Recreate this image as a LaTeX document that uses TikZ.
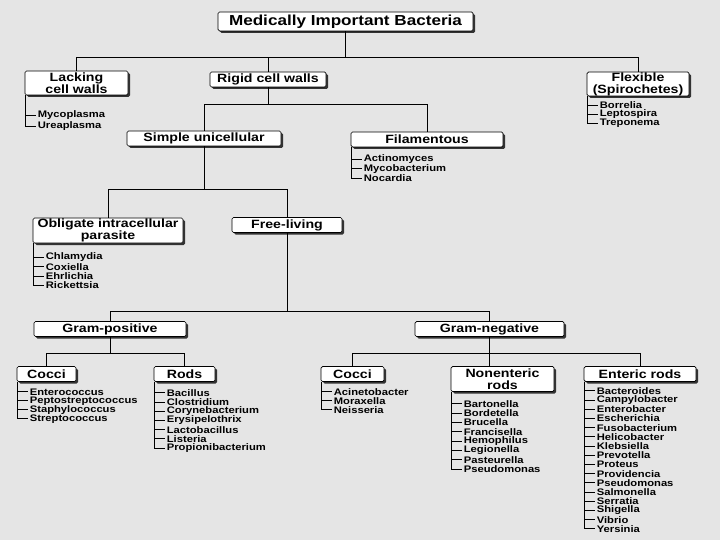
\documentclass[tikz,border=0pt]{standalone}
\usepackage{fontspec}
\setmainfont{Liberation Sans}[FakeStretch=1.18]
\usepackage{tikz}
\usetikzlibrary{shadows}
\tikzset{
	taxon/.style={draw, fill=white, rounded corners=1.5pt, line width=0.7pt, inner sep=0pt, align=center,
		minimum height=15pt, font=\bfseries\fontsize{12}{12}\selectfont,
		drop shadow={shadow xshift=2pt, shadow yshift=-2pt, fill=black!80, opacity=1}},
	genus/.style={anchor=west, inner sep=2pt, font=\bfseries\fontsize{9.5}{9.5}\selectfont},
	branch/.style={line width=0.9pt}
}
\newcommand{\genera}[4][9.2]{% [row]{box}{gap}{names}
	\coordinate (#2-stem) at ([xshift=1pt]#2.south west);
	\foreach \g [count=\i] in {#4} {
		\node[genus] (#2-\i) at ([xshift=11pt, yshift={-(#3+(\i-1)*#1)*1pt}]#2.south west) {\g};
		\draw[branch] (#2-stem) |- (#2-\i.west);
	}
}

\begin{document}
\begin{tikzpicture}[x=1pt, y=-1pt]
	\fill[black!10] (0,0) rectangle (720,540);
	\useasboundingbox (0,0) rectangle (720,540);

	\node[taxon, minimum width=255pt, minimum height=19pt, font=\bfseries\fontsize{14.5}{14.5}\selectfont] (title) at (345.5,21.5) {Medically Important Bacteria};

	\node[taxon, minimum width=103pt, minimum height=24pt] (lack) at (76.5,83) {Lacking\\cell walls};
	\node[taxon, minimum width=116pt] (rigid) at (268,79.5) {Rigid cell walls};
	\node[taxon, minimum width=102pt, minimum height=24pt] (flex) at (638,84) {Flexible\\(Spirochetes)};

	\node[taxon, minimum width=154pt] (simple) at (204,138.5) {Simple unicellular};
	\node[taxon, minimum width=152pt] (filam) at (427,139.5) {Filamentous};

	\node[taxon, minimum width=150pt, minimum height=25pt] (oblig) at (108,230.5) {Obligate intracellular\\parasite};
	\node[taxon, minimum width=110pt] (free) at (287,225) {Free-living};

	\node[taxon, minimum width=152pt] (gpos) at (110,329) {Gram-positive};
	\node[taxon, minimum width=149pt] (gneg) at (489.5,329) {Gram-negative};

	\node[taxon, minimum width=59pt] (pcocci) at (46.5,374) {Cocci};
	\node[taxon, minimum width=61pt] (prods) at (184.5,374) {Rods};
	\node[taxon, minimum width=63pt] (ncocci) at (352.5,374) {Cocci};
	\node[taxon, minimum width=103pt, minimum height=25pt] (nonent) at (502.5,379) {Nonenteric\\rods};
	\node[taxon, minimum width=112pt] (enteric) at (640,374) {Enteric rods};

	% branching levels
	\coordinate (busA) at (0,57);
	\coordinate (busB) at (0,104);
	\coordinate (busC) at (0,189);
	\coordinate (busD) at (0,311);
	\coordinate (busE) at (0,353);

	\draw[branch] (title.south) -- (title.south |- busA);
	\draw[branch] (lack.north) -- (lack.north |- busA) -| (flex.north);
	\draw[branch] (rigid.north) -- (rigid.north |- busA);

	\draw[branch] (rigid.south) -- (rigid.south |- busB);
	\draw[branch] (simple.north) -- (simple.north |- busB) -| (filam.north);

	\draw[branch] (simple.south) -- (simple.south |- busC);
	\draw[branch] (oblig.north) -- (oblig.north |- busC) -| (free.north);

	\draw[branch] (free.south) -- (free.south |- busD);
	\draw[branch] (gpos.north) -- (gpos.north |- busD) -| (gneg.north);

	\draw[branch] (gpos.south) -- (gpos.south |- busE);
	\draw[branch] (pcocci.north) -- (pcocci.north |- busE) -| (prods.north);
	\draw[branch] (gneg.south) -- (gneg.south |- nonent.north);
	\draw[branch] (ncocci.north) -- (ncocci.north |- busE) -| (enteric.north);

	% genera
	\genera[11]{lack}{20}{Mycoplasma, Ureaplasma}
	\genera[9]{flex}{9}{Borrelia, Leptospira, Treponema}
	\genera[9.5]{filam}{12}{Actinomyces, Mycobacterium, Nocardia}
	\genera[9.3]{oblig}{14}{Chlamydia, Coxiella, Ehrlichia, Rickettsia}
	\genera[9]{pcocci}{10}{Enterococcus, Peptostreptococcus, Staphylococcus, Streptococcus}
	\genera{prods}{11}{Bacillus, Clostridium, Corynebacterium, Erysipelothrix, Lactobacillus, Listeria, Propionibacterium}
	\genera[9]{ncocci}{10}{Acinetobacter, Moraxella, Neisseria}
	\genera[9.3]{nonent}{12}{Bartonella, Bordetella, Brucella, Francisella, Hemophilus, Legionella, Pasteurella, Pseudomonas}
	\genera{enteric}{9}{Bacteroides, Campylobacter, Enterobacter, Escherichia, Fusobacterium, Helicobacter, Klebsiella, Prevotella, Proteus, Providencia, Pseudomonas, Salmonella, Serratia, Shigella, Vibrio, Yersinia}
\end{tikzpicture}
\end{document}
